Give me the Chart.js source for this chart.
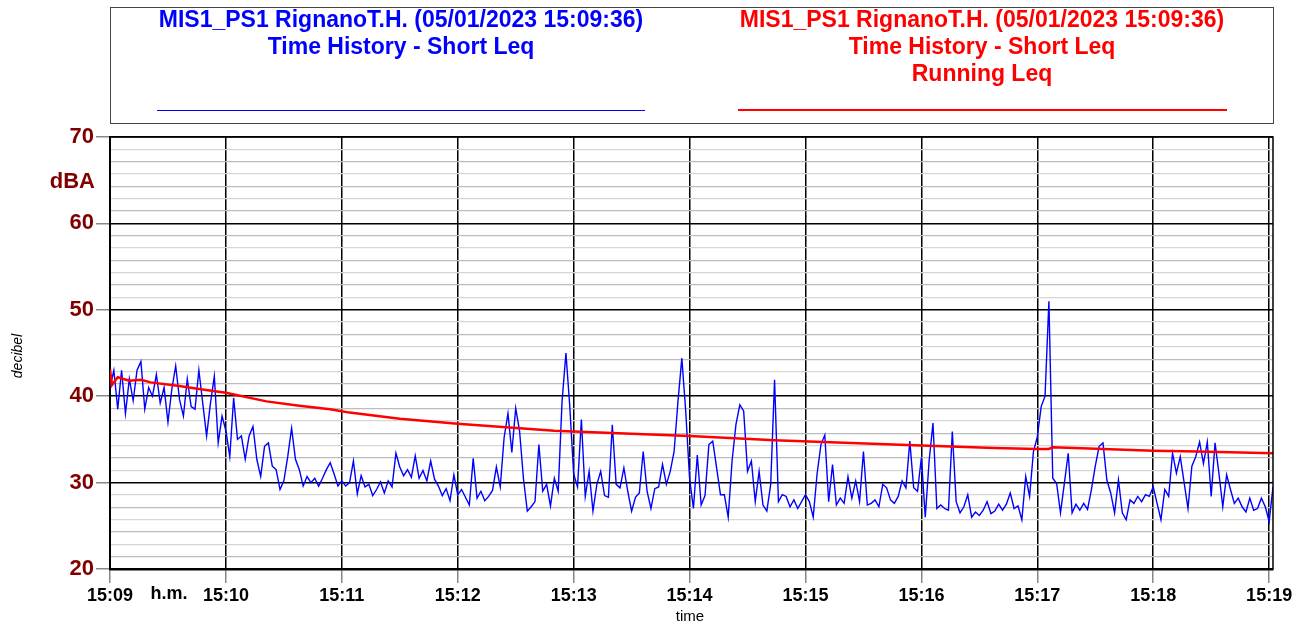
<!DOCTYPE html>
<html>
<head>
<meta charset="utf-8">
<script src="https://cdn.jsdelivr.net/npm/chart.js@4"></script>
<style>
  html, body { margin: 0; padding: 0; background: #fff; }
  #wrap { width: 1303px; height: 628px; }
</style>
</head>
<body>
<div id="wrap"><canvas id="chart" width="1303" height="628"></canvas></div>
<script>
// Short Leq, one value every 2 s from 15:09:00
const stepSeconds = 2;
const shortLeq = [
  41, 43, 38.5, 43, 38, 42, 39.5, 43, 44, 38.5,
  41, 40, 42.5, 39.2, 41, 37, 40.8, 43.5, 39.6, 37.7,
  42, 38.8, 38.5, 43, 39.2, 35.4, 39.2, 42.3, 34.6, 37.7,
  36, 33, 39.8, 35, 35.4, 32.7, 35.4, 36.5, 32.7, 30.7,
  34.2, 34.6, 31.9, 31.5, 29.2, 30.2, 33, 36.3, 32.7, 31.5,
  29.6, 30.7, 30, 30.5, 29.6, 30.5, 31.5, 32.3, 31, 29.6,
  30.2, 29.6, 30, 32.5, 28.7, 30.8, 29.5, 29.8, 28.5, 29.2,
  30.1, 28.8, 30.2, 29.5, 33.4, 31.8, 30.8, 31.5, 30.6, 33.1,
  30.5, 31.4, 30.2, 32.5, 30.4, 29.6, 28.5, 29.3, 27.9, 30.9,
  28.6, 29.2, 28.3, 27.4, 32.8, 28.2, 29, 27.9, 28.4, 29.1,
  31.8, 29.5, 35.2, 38, 33.5, 38.6, 36, 30.5, 26.7, 27.2,
  27.8, 34.4, 29, 29.8, 27.3, 30.5, 29, 39.4, 45, 38.8,
  31, 29.5, 37.3, 28.4, 31.3, 26.7, 29.8, 31.3, 28.5, 28.3,
  36.7, 29.8, 29.4, 31.7, 29, 26.7, 28.3, 28.8, 33.6, 29,
  27, 29.3, 29.5, 32.1, 29.8, 31.3, 33.6, 39.4, 44.4, 38.3,
  30.5, 27, 33.2, 27.4, 28.5, 34.4, 34.8, 31.7, 28.6, 28.6,
  26, 32.5, 36.7, 39, 38.3, 31.3, 32.5, 27.8, 31.3, 27.4,
  26.7, 29.8, 41.9, 27.8, 28.6, 28.4, 27.2, 28, 27, 27.8,
  28.6, 27.8, 26, 31, 34.4, 35.5, 27.8, 32.1, 27.4, 28.2,
  27.6, 30.7, 28.2, 30.2, 27.8, 33.6, 27.4, 27.6, 28, 27.2,
  29.8, 29.4, 28, 27.6, 28.4, 30.2, 29.4, 34.8, 29.4, 29,
  32.9, 26, 32.5, 36.9, 27, 27.4, 27, 26.8, 35.9, 27.8,
  26.5, 27.2, 28.6, 26, 26.6, 26.2, 26.8, 27.8, 26.4, 26.7,
  27.5, 26.8, 27.5, 28.8, 27, 27.3, 25.7, 30.7, 28.4, 33.6,
  35.3, 38.8, 40, 51, 30.5, 29.9, 26.5, 29.9, 33.4, 26.5,
  27.5, 26.8, 27.6, 26.9, 29.2, 31.9, 34.2, 34.6, 30.3, 28.8,
  26.5, 30.3, 26.5, 25.7, 28, 27.6, 28.4, 27.8, 28.6, 28.4,
  29.5, 27.6, 25.7, 29.2, 28.4, 33.4, 31.1, 33, 30, 27,
  31.9, 33, 34.7, 32.2, 34.7, 28.4, 34.6, 31.1, 27.2, 30.9,
  29.2, 27.6, 28.2, 27.2, 26.6, 28.2, 26.8, 27, 28.2, 27.2,
  25.5, 29.5
];

// Running Leq, seconds from 15:09:00 and dB
const runTimes = [0, 1, 4, 10, 16, 21, 35, 47, 60, 81, 98, 114, 124, 150, 180, 230, 300, 344, 420, 458, 480, 486, 488, 540, 563, 602];
const runLeq = [43.1, 41.3, 42.2, 41.8, 41.9, 41.6, 41.2, 40.8, 40.4, 39.4, 38.9, 38.5, 38.1, 37.4, 36.8, 36.0, 35.4, 34.9, 34.3, 34.0, 33.9, 33.9, 34.1, 33.7, 33.6, 33.4];

const minuteTicks = [0, 60, 120, 180, 240, 300, 360, 420, 480, 540, 600];
const minuteLabels = ['15:09', '15:10', '15:11', '15:12', '15:13', '15:14', '15:15', '15:16', '15:17', '15:18', '15:19'];
const dbMin = 20, dbMax = 70, dbMinorPerMajor = 7;

const seriesTitles = [
  ['MIS1_PS1 RignanoT.H. (05/01/2023 15:09:36)', 'Time History - Short Leq'],
  ['MIS1_PS1 RignanoT.H. (05/01/2023 15:09:36)', 'Time History - Short Leq', 'Running Leq']
];

const isMajor = v => Math.abs(v / 10 - Math.round(v / 10)) < 1e-6;

const decor = {
  id: 'decor',
  afterDraw(chart) {
    const c = chart.ctx;
    const a = chart.chartArea;
    c.save();

    // legend frame
    c.strokeStyle = '#444';
    c.lineWidth = 1;
    c.strokeRect(110.5, 7.5, 1163, 116);

    c.textAlign = 'center';
    c.textBaseline = 'middle';
    c.font = 'bold 23px "Liberation Sans", Arial, sans-serif';
    const cols = [{ x: 401, color: '#0000ff' }, { x: 982, color: '#ff0000' }];
    seriesTitles.forEach((lines, i) => {
      c.fillStyle = cols[i].color;
      lines.forEach((t, j) => c.fillText(t, cols[i].x, 21 + j * 27));
    });
    c.strokeStyle = '#0000ff';
    c.lineWidth = 1;
    c.beginPath(); c.moveTo(157, 110.5); c.lineTo(645, 110.5); c.stroke();
    c.strokeStyle = '#ff0000';
    c.lineWidth = 2;
    c.beginPath(); c.moveTo(738, 110); c.lineTo(1227, 110); c.stroke();

    // plot frame top/right
    c.strokeStyle = '#000';
    c.lineWidth = 1.5;
    c.beginPath();
    c.moveTo(a.left, a.top); c.lineTo(a.right, a.top); c.lineTo(a.right, a.bottom);
    c.stroke();

    // unit and axis titles
    c.fillStyle = '#800000';
    c.textAlign = 'right';
    c.font = 'bold 22px "Liberation Sans", Arial, sans-serif';
    c.fillText('dBA', 95, 182);

    c.fillStyle = '#000';
    c.textAlign = 'center';
    c.font = 'bold 18px "Liberation Sans", Arial, sans-serif';
    c.fillText('h.m.', 169, 594);

    c.font = '15px "Liberation Sans", Arial, sans-serif';
    c.fillText('time', 690, 617);

    c.save();
    c.translate(18, 356);
    c.rotate(-Math.PI / 2);
    c.font = 'italic 14px "Liberation Sans", Arial, sans-serif';
    c.fillText('decibel', 0, 0);
    c.restore();

    c.restore();
  }
};

new Chart(document.getElementById('chart'), {
  type: 'line',
  data: {
    datasets: [
      {
        label: 'Running Leq',
        data: runTimes.map((t, i) => ({ x: t, y: runLeq[i] })),
        borderColor: '#ff0000',
        borderWidth: 2.5,
        pointRadius: 0,
        tension: 0,
        order: 0
      },
      {
        label: 'Short Leq',
        data: shortLeq.map((v, i) => ({ x: i * stepSeconds, y: v })),
        borderColor: '#0000ff',
        borderWidth: 1.4,
        pointRadius: 0,
        tension: 0,
        order: 1
      }
    ]
  },
  options: {
    responsive: false,
    animation: false,
    events: [],
    layout: { padding: { left: 0, top: 137, right: 30, bottom: 0 } },
    plugins: { legend: { display: false }, tooltip: { enabled: false } },
    scales: {
      x: {
        type: 'linear',
        min: 0,
        max: 602,
        afterFit(scale) { scale.height = 628 - 569; },
        afterBuildTicks(scale) { scale.ticks = minuteTicks.map(v => ({ value: v })); },
        border: { color: '#000', width: 2.5 },
        grid: { color: '#000', lineWidth: 1.5, tickLength: 14, tickColor: '#888' },
        ticks: {
          autoSkip: false,
          maxRotation: 0,
          padding: 2,
          color: '#000',
          font: { family: '"Liberation Sans", Arial, sans-serif', size: 18, weight: 'bold' },
          callback: v => minuteLabels[minuteTicks.indexOf(v)]
        }
      },
      y: {
        type: 'linear',
        min: dbMin,
        max: dbMax,
        afterFit(scale) { scale.width = 110; },
        afterBuildTicks(scale) {
          const n = (dbMax - dbMin) / 10 * dbMinorPerMajor;
          const t = [];
          for (let i = 0; i <= n; i++) t.push({ value: dbMin + i * 10 / dbMinorPerMajor });
          scale.ticks = t;
        },
        border: { color: '#000', width: 2 },
        grid: {
          color: ctx => isMajor(ctx.tick.value) ? '#000' : (ctx.index % 2 ? '#bdbdbd' : '#d6d6d6'),
          lineWidth: ctx => isMajor(ctx.tick.value) ? 1.5 : 1.3,
          tickLength: 14,
          tickColor: ctx => isMajor(ctx.tick.value) ? '#888' : 'rgba(0,0,0,0)'
        },
        ticks: {
          autoSkip: false,
          padding: 2,
          color: '#800000',
          font: { family: '"Liberation Sans", Arial, sans-serif', size: 22, weight: 'bold' },
          callback: v => isMajor(v) ? String(Math.round(v)) : ''
        }
      }
    }
  },
  plugins: [decor]
});
</script>
</body>
</html>
